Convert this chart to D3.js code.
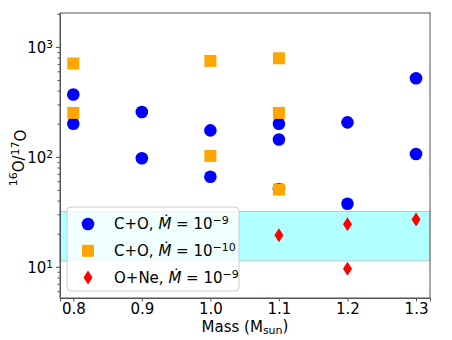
<!DOCTYPE html>
<html>
<head>
<meta charset="utf-8">
<script src="https://cdn.jsdelivr.net/npm/d3@7"></script>
<style>
  body { margin: 0; background: #fff; }
  text { font-family: "DejaVu Sans", sans-serif; }
</style>
</head>
<body>
<div id="chart"></div>
<script>
// C+O, Mdot = 1e-9
var coFastMass = [0.8, 0.8, 0.9, 0.9, 1.0, 1.0, 1.1, 1.1, 1.1, 1.2, 1.2, 1.3, 1.3];
var coFastRatio = [369, 200, 256, 97, 174, 66, 200, 144, 51, 206, 37.4, 519, 106];
// C+O, Mdot = 1e-10
var coSlowMass = [0.8, 0.8, 1.0, 1.0, 1.1, 1.1, 1.1];
var coSlowRatio = [706, 251, 746, 102, 789, 251, 50.5];
// O+Ne, Mdot = 1e-9
var oneMass = [1.1, 1.2, 1.2, 1.3];
var oneRatio = [19.4, 24.4, 9.6, 26.9];
// observed range (shaded band)
var bandRange = [11.3, 31.9];
var xTicks = [0.8, 0.9, 1.0, 1.1, 1.2, 1.3];
var yTicks = [10, 100, 1000];

var margin = {top: 13, right: 22, bottom: 42, left: 60},
    width = 452 - margin.left - margin.right,
    height = 340 - margin.top - margin.bottom;

var svg = d3.select("#chart").append("svg")
    .attr("width", 452)
    .attr("height", 340);
var g = svg.append("g")
    .attr("transform", "translate(" + margin.left + "," + margin.top + ")");

var x = d3.scaleLinear().domain([0.7806, 1.3204]).range([0, width]);
var y = d3.scaleLog().domain([5.2, 2035]).range([height, 0]);

// shaded band
g.append("rect")
    .attr("x", 0)
    .attr("width", width)
    .attr("y", y(bandRange[1]))
    .attr("height", y(bandRange[0]) - y(bandRange[1]))
    .attr("fill", "#00ffff")
    .attr("fill-opacity", 0.3)
    .attr("stroke", "#bbb")
    .attr("stroke-width", 0.8);

// axes
var xAxis = g.append("g")
    .attr("transform", "translate(0," + height + ")")
    .call(d3.axisBottom(x).tickValues(xTicks).tickFormat(d3.format(".1f")).tickSizeOuter(0).tickSize(3.5));
xAxis.selectAll("text").attr("font-size", 15).attr("y", 5).attr("dy", "0.7em").attr("fill", "#000");

var minor = [];
[1, 10, 100, 1000].forEach(function(d) {
  for (var k = 2; k < 10; k++) {
    var v = d * k;
    if (v > 5.2 && v < 2035) minor.push(v);
  }
});
g.append("g")
    .call(d3.axisLeft(y).tickValues(minor).tickFormat("").tickSize(2.5).tickSizeOuter(0))
    .select(".domain").remove();

var yAxis = g.append("g")
    .call(d3.axisLeft(y).tickValues(yTicks).tickFormat("").tickSize(4).tickSizeOuter(0));
yAxis.selectAll(".tick").append("text")
    .attr("x", -7)
    .attr("dy", "0.35em")
    .attr("text-anchor", "end")
    .attr("font-size", 15)
    .attr("fill", "#000")
    .each(function(d) {
      var t = d3.select(this);
      t.append("tspan").text("10");
      t.append("tspan").attr("dy", "-0.45em").attr("font-size", 10.5).text(Math.round(Math.log10(d)));
    });

g.selectAll(".domain, .tick line").attr("stroke", "#555");

// frame
g.append("rect")
    .attr("width", width)
    .attr("height", height)
    .attr("fill", "none")
    .attr("stroke", "#555")
    .attr("stroke-width", 1);

// points
g.selectAll(".co9")
    .data(coFastMass)
  .enter().append("circle")
    .attr("cx", function(d) { return x(d); })
    .attr("cy", function(d, i) { return y(coFastRatio[i]); })
    .attr("r", 6.3)
    .attr("fill", "#0000ff");

g.selectAll(".co10")
    .data(coSlowMass)
  .enter().append("rect")
    .attr("x", function(d) { return x(d) - 6; })
    .attr("y", function(d, i) { return y(coSlowRatio[i]) - 6; })
    .attr("width", 12)
    .attr("height", 12)
    .attr("fill", "#ffa500");

var diamond = "M0,-7L4.5,0L0,7L-4.5,0Z";
g.selectAll(".one")
    .data(oneMass)
  .enter().append("path")
    .attr("d", diamond)
    .attr("transform", function(d, i) { return "translate(" + x(d) + "," + y(oneRatio[i]) + ")"; })
    .attr("fill", "#ff0000");

// labels
svg.append("text")
    .attr("x", margin.left + width / 2)
    .attr("y", 332)
    .attr("text-anchor", "middle")
    .attr("font-size", 15)
    .each(function() {
      var t = d3.select(this);
      t.append("tspan").text("Mass (M");
      t.append("tspan").attr("dy", "0.2em").attr("font-size", 11).text("sun");
      t.append("tspan").attr("dy", "-0.2em").text(")");
    });

svg.append("text")
    .attr("transform", "translate(22," + (margin.top + 145) + ") rotate(-90)")
    .attr("text-anchor", "middle")
    .attr("font-size", 15)
    .each(function() {
      var t = d3.select(this);
      t.append("tspan").attr("dy", "-0.45em").attr("font-size", 11).text("16");
      t.append("tspan").attr("dy", "0.45em").text("O/");
      t.append("tspan").attr("dy", "-0.45em").attr("font-size", 11).text("17");
      t.append("tspan").attr("dy", "0.45em").text("O");
    });

// legend
var legend = g.append("g").attr("transform", "translate(7,194)");
legend.append("rect")
    .attr("width", 172)
    .attr("height", 84)
    .attr("rx", 4)
    .attr("fill", "#fff")
    .attr("fill-opacity", 0.8)
    .attr("stroke", "#ccc");

var legendItems = [
  {label: "C+O, ", exp: "\u22129", shape: "circle", color: "#0000ff"},
  {label: "C+O, ", exp: "\u221210", shape: "square", color: "#ffa500"},
  {label: "O+Ne, ", exp: "\u22129", shape: "diamond", color: "#ff0000"}
];
legendItems.forEach(function(item, i) {
  var row = legend.append("g").attr("transform", "translate(21," + (17 + i * 26.8) + ")");
  if (item.shape == "circle") row.append("circle").attr("r", 6.3).attr("fill", item.color);
  else if (item.shape == "square") row.append("rect").attr("x", -6).attr("y", -6).attr("width", 12).attr("height", 12).attr("fill", item.color);
  else row.append("path").attr("d", diamond).attr("fill", item.color);
  var t = row.append("text")
      .attr("x", 26)
      .attr("dy", "0.35em")
      .attr("font-size", 15);
  t.append("tspan").text(item.label);
  t.append("tspan").attr("font-style", "italic").text("\u1E40");
  t.append("tspan").text(" = 10");
  t.append("tspan").attr("dy", "-0.45em").attr("font-size", 11).text(item.exp);
});
</script>
</body>
</html>
